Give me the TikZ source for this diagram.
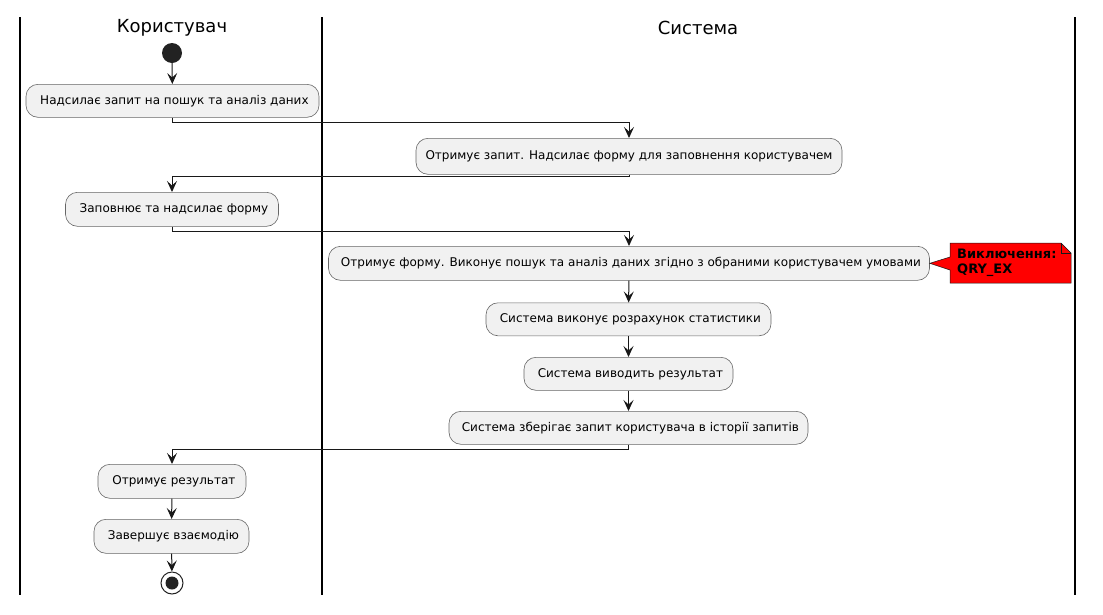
\documentclass[tikz,border=0pt]{standalone}
\usepackage{fontspec}
\setmainfont{DejaVu Sans}
\usetikzlibrary{arrows.meta}
\definecolor{boxfill}{HTML}{F1F1F1}
\definecolor{ink}{HTML}{181818}
\definecolor{dot}{HTML}{222222}
\tikzset{
  act/.style={draw=black!60, line width=0.6pt, fill=boxfill, rounded corners=12pt,
    inner sep=0pt, font=\fontsize{12}{14}\selectfont, anchor=north},
  flow/.style={draw=ink, line width=1pt, -{Stealth[length=11pt,width=10pt,inset=4.5pt]}},
  lane/.style={draw=black, line width=1.6pt},
  title/.style={font=\fontsize{18}{20}\selectfont, inner sep=0pt},
}
\begin{document}
\begin{tikzpicture}[x=1pt,y=-1pt]
\useasboundingbox (0,0) rectangle (1103,614);
% swimlanes
\draw[lane] (20,17) -- (20,595);
\draw[lane] (322,17) -- (322,595);
\draw[lane] (1075,17) -- (1075,595);
\node[title] (t1) at (172,28) {Користувач};
\node[title] (t2) at (698,28) {Система};
% start
\node[circle, fill=dot, minimum size=20pt, inner sep=0pt] (start) at (172,53) {};
% actions
\node[act, minimum width=293pt, minimum height=33pt] (a1) at (172.5,84) {\ Надсилає запит на пошук та аналіз даних};
\node[act, minimum width=426pt, minimum height=36pt] (a2) at (629,138) {Отримує запит. Надсилає форму для заповнення користувачем};
\node[act, minimum width=213pt, minimum height=34pt] (a3) at (172,192) {\ Заповнює та надсилає форму};
\node[act, minimum width=601pt, minimum height=34pt] (a4) at (629,246) {\ Отримує форму. Виконує пошук та аналіз даних згідно з обраними користувачем умовами};
\node[act, minimum width=285pt, minimum height=33pt] (a5) at (628.5,302.5) {\ Система виконує розрахунок статистики};
\node[act, minimum width=209pt, minimum height=33pt] (a6) at (628.5,357) {\ Система виводить результат};
\node[act, minimum width=359pt, minimum height=33pt] (a7) at (628.5,411) {\ Система зберігає запит користувача в історії запитів};
\node[act, minimum width=148pt, minimum height=34pt] (a8) at (172,464) {\ Отримує результат};
\node[act, minimum width=155pt, minimum height=34pt] (a9) at (171.5,519) {\ Завершує взаємодію};
% end
\node[circle, draw=dot, line width=1pt, fill=white, minimum size=22pt, inner sep=0pt] (stop) at (172,583) {};
\node[circle, fill=dot, minimum size=13pt, inner sep=0pt] (stopdot) at (stop.center) {};
% note
\fill[red, draw=ink, line width=0.5pt] (950,243) -- (1061,243) -- (1071,253) -- (1071,283) -- (950,283) -- (950,270) -- (a4.east) -- (950,257) -- cycle;
\draw[ink, line width=0.5pt] (1061,243) -- (1061,253) -- (1071,253);
\node[anchor=north west, inner sep=0pt, align=left, font=\fontsize{13}{15}\selectfont\bfseries] (note) at (957,249) {Виключення:\\QRY\_EX};
% connectors
\draw[flow] (start) -- (a1);
\draw[flow] (a1.south) -- ++(0,5) -| (a2.north);
\draw[flow] (a2.south) -- ++(0,2) -| (a3.north);
\draw[flow] (a3.south) -- ++(0,5) -| (a4.north);
\draw[flow] (a4) -- (a5);
\draw[flow] (a5) -- (a6);
\draw[flow] (a6) -- (a7);
\draw[flow] (a7.south) -- ++(0,5) -| (a8.north);
\draw[flow] (a8) -- (a9);
\draw[flow] (a9) -- (stop);
\end{tikzpicture}
\end{document}
